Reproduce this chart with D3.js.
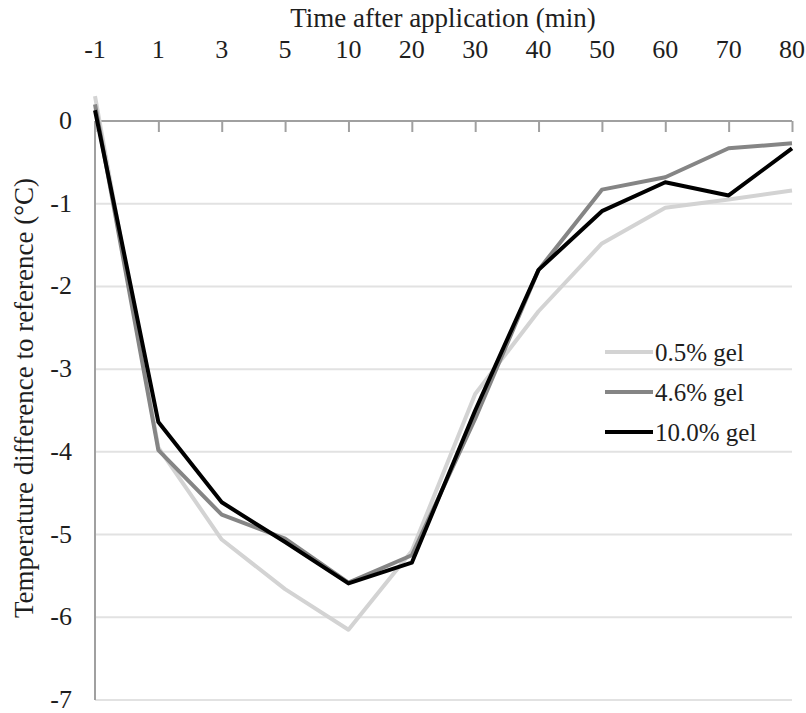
<!DOCTYPE html>
<meta charset="utf-8">
<style>
body { margin: 0; background: #fff; }
text { font-family: "Liberation Serif", "DejaVu Serif", serif; fill: #1e1e1e; }
.grid line { stroke: #e2e2e2; stroke-width: 2px; }
.series { fill: none; stroke-width: 4px; stroke-linejoin: round; }
</style>
<body>
<div id="chart"></div>
<script src="https://cdn.jsdelivr.net/npm/d3@7"></script>
<script>
var times = ["-1", "1", "3", "5", "10", "20", "30", "40", "50", "60", "70", "80"];
var gel05 = [0.3, -3.95, -5.06, -5.66, -6.15, -5.2, -3.3, -2.3, -1.48, -1.05, -0.95, -0.84];
var gel46 = [0.2, -3.98, -4.76, -5.05, -5.58, -5.25, -3.6, -1.8, -0.83, -0.68, -0.33, -0.27];
var gel10 = [0.13, -3.64, -4.61, -5.09, -5.59, -5.34, -3.5, -1.8, -1.09, -0.74, -0.9, -0.33];
var names = ["0.5% gel", "4.6% gel", "10.0% gel"];
var colors = ["#d3d3d3", "#858585", "#000000"];
var yTicks = [0, -1, -2, -3, -4, -5, -6, -7];

var width = 806, height = 713;
var svg = d3.select("#chart").append("svg")
  .attr("width", width).attr("height", height);

var x = d3.scalePoint().domain(times).range([95, 792]);
var y = d3.scaleLinear().domain([-7, 0]).range([700, 121]);

// horizontal gridlines
svg.append("g").attr("class", "grid")
  .selectAll("line").data(yTicks.filter(function(d) { return d != 0; }))
  .enter().append("line")
  .attr("x1", x("-1")).attr("x2", x("80"))
  .attr("y1", function(d) { return y(d); }).attr("y2", function(d) { return y(d); });

// y axis line + labels
svg.append("line")
  .attr("x1", x("-1")).attr("x2", x("-1"))
  .attr("y1", y(0)).attr("y2", y(-7))
  .style("stroke", "#a0a0a0").style("stroke-width", 2);

svg.append("g").selectAll("text").data(yTicks).enter().append("text")
  .attr("x", 72).attr("y", function(d) { return y(d) + 8; })
  .attr("text-anchor", "end").style("font-size", "26px")
  .text(function(d) { return d; });

// top x axis (zero line)
var xAxis = d3.axisBottom(x).tickSize(11).tickFormat("");
var gx = svg.append("g").attr("transform", "translate(0," + y(0) + ")").call(xAxis);
gx.select(".domain").attr("d", "M" + x("-1") + ",0H" + x("80"))
  .style("stroke", "#a0a0a0").style("stroke-width", 2);
gx.selectAll(".tick line").style("stroke", "#a0a0a0").style("stroke-width", 2);

svg.append("g").selectAll("text").data(times).enter().append("text")
  .attr("x", function(d) { return x(d); }).attr("y", 58)
  .attr("text-anchor", "middle").style("font-size", "26px")
  .text(function(d) { return d; });

svg.append("text").attr("x", 443).attr("y", 27)
  .attr("text-anchor", "middle").style("font-size", "27px")
  .text("Time after application (min)");

svg.append("text")
  .attr("transform", "translate(33,398) rotate(-90)")
  .attr("text-anchor", "middle").style("font-size", "27px")
  .text("Temperature difference to reference (°C)");

// series
var line = d3.line()
  .x(function(d, i) { return x(times[i]); })
  .y(function(d) { return y(d); });

[gel05, gel46, gel10].forEach(function(s, i) {
  svg.append("path").attr("class", "series")
    .attr("d", line(s)).style("stroke", colors[i]);
});

// legend
var leg = svg.append("g").selectAll("g").data(names).enter().append("g")
  .attr("transform", function(d, i) { return "translate(605," + (352 + i * 40) + ")"; });
leg.append("line").attr("x1", 0).attr("x2", 48)
  .style("stroke", function(d, i) { return colors[i]; }).style("stroke-width", 4);
leg.append("text").attr("x", 50).attr("y", 9).style("font-size", "25px")
  .text(function(d) { return d; });
</script>
</body>
